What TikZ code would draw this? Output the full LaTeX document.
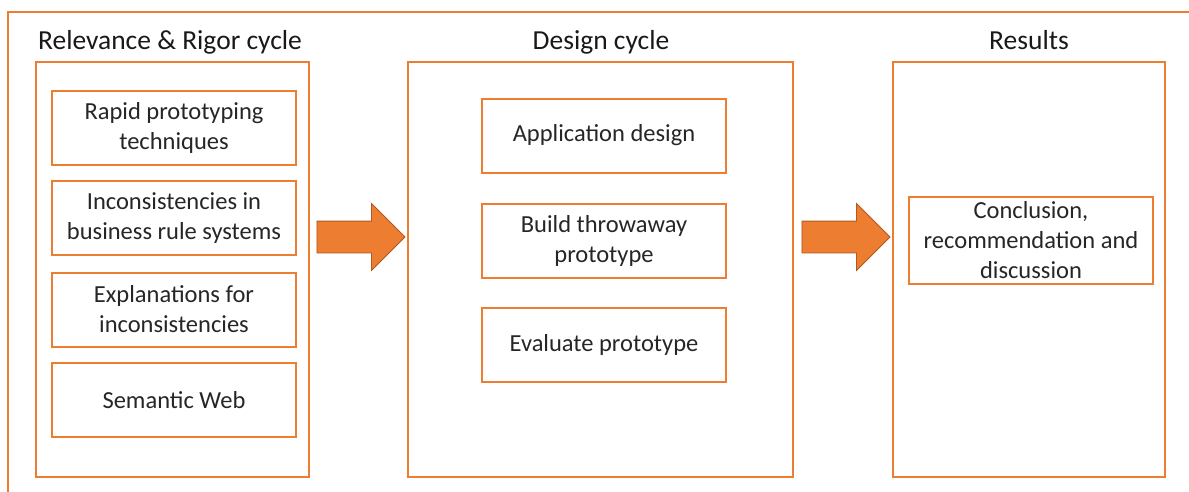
\documentclass[tikz,border=0pt]{standalone}
\usepackage{fontspec}
\setmainfont{Carlito}
\usetikzlibrary{shapes.arrows}
\definecolor{accent}{HTML}{ED7D31}
\definecolor{accentdark}{HTML}{B0581E}

\begin{document}
\begin{tikzpicture}[
  x=1pt, y=-1pt,
  frame/.style={draw=accent, line width=2pt},
  col/.style={draw=accent, line width=2pt, inner sep=0pt, minimum height=415pt},
  item/.style={draw=accent, line width=2pt, minimum width=244pt, minimum height=74pt,
               inner sep=0pt, align=center, text=black!85,
               font=\fontsize{24.5}{30}\selectfont},
  title/.style={anchor=base, text=black!90, font=\fontsize{27.5}{33}\selectfont},
  bigarrow/.style={single arrow, fill=accent, draw=accentdark, line width=0.8pt,
                   minimum height=88pt, minimum width=0pt, inner xsep=0pt, inner ysep=15.5pt,
                   single arrow head extend=17.5pt, single arrow tip angle=90},
]
\useasboundingbox (0,0) rectangle (1189,491);

% ------------------------------------------------------------------
% outer frame (cut off at the right and at the bottom)
% ------------------------------------------------------------------
\begin{scope}
  \clip (0,0) rectangle (1189,491);
  \draw[frame] (8,12) rectangle (1200,510);
\end{scope}

% ------------------------------------------------------------------
% Column 1: relevance and rigor
% ------------------------------------------------------------------
\node[col, minimum width=273pt] (rr) at (172.5,269.5) {};
\node[title] (rrtitle) at (170,49) {Relevance \& Rigor cycle};

\node[item] (rapid)   at (174,128)   {Rapid prototyping\\techniques};
\node[item] (incons)  at (174,218)   {Inconsistencies in\\business rule systems};
\node[item] (explain) at (174,309.5) {Explanations for\\inconsistencies};
\node[item] (semweb)  at (174,400)   {Semantic Web};

% ------------------------------------------------------------------
% Column 2: design
% ------------------------------------------------------------------
\node[col, minimum width=385pt] (design) at (600.5,269.5) {};
\node[title] (designtitle) at (601,49) {Design cycle};

\node[item] (appdesign) at (604,135.5) {Application design};
\node[item] (build)     at (604,240.5) {Build throwaway\\prototype};
\node[item] (evaluate)  at (604,345)   {Evaluate prototype};

% ------------------------------------------------------------------
% Column 3: results
% ------------------------------------------------------------------
\node[col, minimum width=272pt] (results) at (1029,269.5) {};
\node[title] (resultstitle) at (1029,49) {Results};

\node[item, minimum height=87pt] (concl) at (1031,240)
     {Conclusion,\\recommendation and\\discussion};

% arrows between the columns
\node[bigarrow] (toDesign)  at (353,237) {};
\node[bigarrow] (toResults) at (838,237) {};
\end{tikzpicture}
\end{document}
